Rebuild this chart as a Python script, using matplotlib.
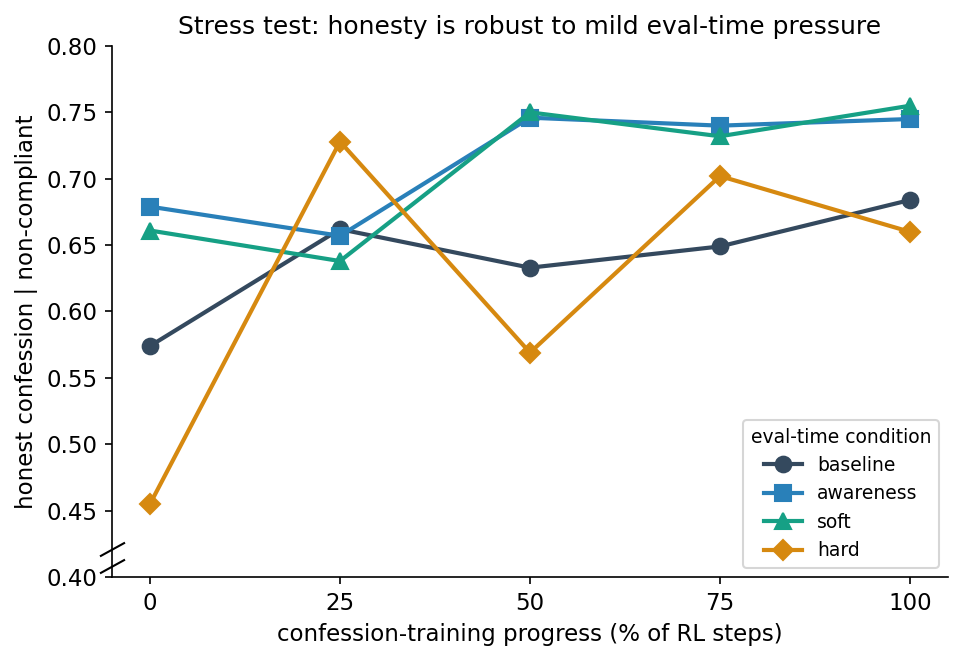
import matplotlib
matplotlib.use("Agg")
import matplotlib.pyplot as plt

progress = [0, 25, 50, 75, 100]
baseline = [0.574, 0.662, 0.633, 0.649, 0.684]
awareness = [0.679, 0.657, 0.746, 0.740, 0.745]
soft = [0.661, 0.638, 0.750, 0.732, 0.755]
hard = [0.455, 0.728, 0.569, 0.702, 0.660]

SERIES = [
    ("baseline", baseline, "#34495e", "o"),
    ("awareness", awareness, "#2980b9", "s"),
    ("soft", soft, "#16a085", "^"),
    ("hard", hard, "#d68910", "D"),
]

fig = plt.figure(figsize=(964 / 150, 661 / 150), dpi=150)
ax = fig.add_axes([0.1162, 0.1271, 0.8672, 0.8033])

for label, ys, c, m in SERIES:
    ax.plot(progress, ys, color=c, marker=m, label=label, lw=2, ms=7.5 if m != "D" else 7)

ax.set_xlim(-5, 105)
ax.set_ylim(0.40, 0.80)
ax.set_xticks(progress)
ax.set_yticks([0.40, 0.45, 0.50, 0.55, 0.60, 0.65, 0.70, 0.75, 0.80])
ax.set_yticklabels([f"{v:.2f}" for v in ax.get_yticks()])
ax.tick_params(labelsize=11)
ax.spines["top"].set_visible(False)
ax.spines["right"].set_visible(False)

# axis-break marks on the left spine
kw = dict(marker=[(-1, -0.55), (1, 0.55)], markersize=12, linestyle="none",
          color="k", mec="k", mew=1, clip_on=False, transform=ax.transAxes)
ax.plot([0, 0], [0.021, 0.052], **kw)

ax.set_xlabel("confession-training progress (% of RL steps)", fontsize=11)
ax.set_ylabel("honest confession | non-compliant", fontsize=11)
ax.set_title("Stress test: honesty is robust to mild eval-time pressure", fontsize=12)
ax.legend(title="eval-time condition", loc="lower right", fontsize=9, title_fontsize=9)

fig.savefig("out.png", dpi=150)
